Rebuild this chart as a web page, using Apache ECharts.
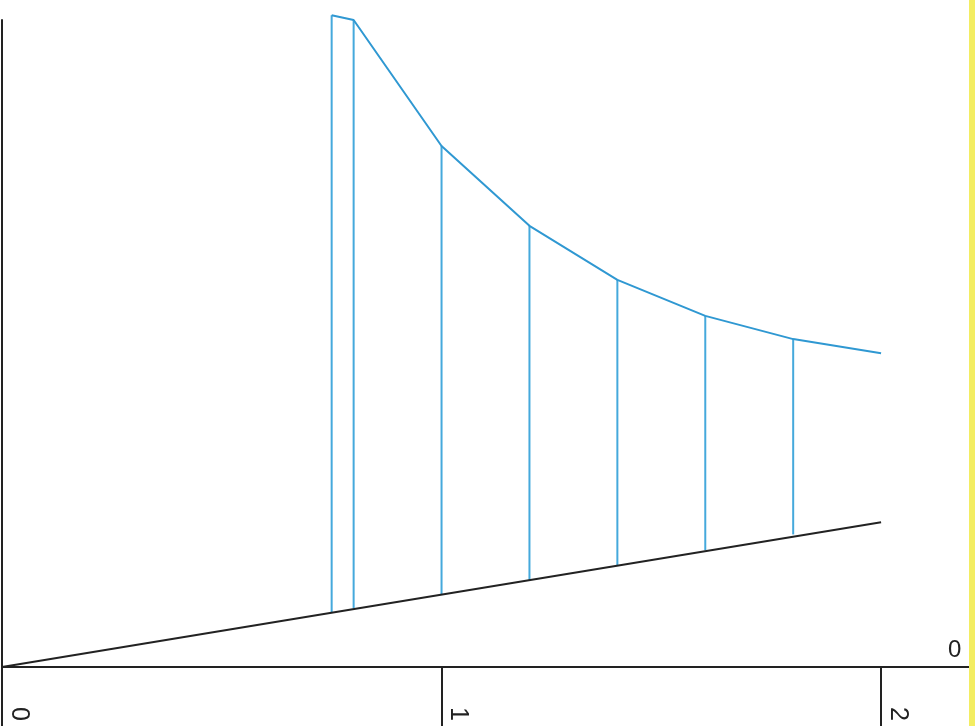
<!DOCTYPE html>
<html>
<head>
<meta charset="utf-8">
<script src="https://cdn.jsdelivr.net/npm/echarts@6/dist/echarts.min.js"></script>
<style>
  html, body { margin: 0; padding: 0; background: #fff; }
  #main { width: 980px; height: 726px; }
</style>
</head>
<body>
<div id="main"></div>
<script>
// stations along x where the curve was sampled
var stationX = [0.75, 0.8, 1.0, 1.2, 1.4, 1.6, 1.8, 2.0]
// upper (blue) curve values
var curveY = [1.485, 1.474, 1.187, 1.005, 0.882, 0.800, 0.747, 0.715]
// foot of each blue vertical, on the black line (no vertical at 2.0)
var baseY = [0.125, 0.134, 0.164, 0.197, 0.232, 0.266, 0.302]
// straight black line
var lineX = [0, 2.0]
var lineY = [0, 0.330]
// x axis tick labels
var tickValues = [0, 1, 2]

var curveData = stationX.map(function (x, i) { return [x, curveY[i]] })
var lineData = lineX.map(function (x, i) { return [x, lineY[i]] })
var stickData = baseY.map(function (b, i) { return [stationX[i], b, curveY[i]] })

var chart = echarts.init(document.getElementById('main'))

var option = {
  animation: false,
  backgroundColor: '#ffffff',
  grid: { left: 2, right: 11, top: 20, bottom: 59 },
  xAxis: {
    type: 'value',
    min: 0,
    max: 2.2,
    name: '0',
    nameLocation: 'end',
    nameGap: -21,
    nameTextStyle: {
      fontFamily: 'Liberation Sans',
      fontSize: 24,
      color: '#222',
      align: 'left',
      verticalAlign: 'bottom',
      padding: [0, 0, 5, 0]
    },
    axisLine: { show: true, lineStyle: { color: '#222', width: 2 } },
    axisTick: {
      show: true,
      customValues: tickValues,
      length: 60,
      lineStyle: { color: '#222', width: 2 }
    },
    axisLabel: {
      show: true,
      customValues: tickValues,
      rotate: -90,
      margin: 40,
      verticalAlign: 'bottom',
      padding: [0, 0, 4, 0],
      fontFamily: 'Liberation Sans',
      fontSize: 25,
      color: '#222'
    },
    splitLine: { show: false }
  },
  yAxis: {
    type: 'value',
    min: 0,
    max: 1.474,
    axisLine: { show: true, onZero: false, lineStyle: { color: '#222', width: 2 } },
    axisTick: { show: false },
    axisLabel: { show: false },
    splitLine: { show: false }
  },
  graphic: [
    {
      type: 'rect',
      left: 969,
      top: 0,
      shape: { width: 6, height: 726 },
      style: { fill: '#f3ed62' },
      z: 100
    }
  ],
  series: [
    {
      // blue verticals from the black line up to the curve
      type: 'custom',
      encode: { x: 0, y: [1, 2] },
      renderItem: function (params, api) {
        var p1 = api.coord([api.value(0), api.value(1)])
        var p2 = api.coord([api.value(0), api.value(2)])
        return {
          type: 'line',
          shape: { x1: p1[0], y1: p1[1], x2: p2[0], y2: p2[1] },
          style: { stroke: '#45a9dc', lineWidth: 2 }
        }
      },
      data: stickData,
      z: 2
    },
    {
      type: 'line',
      data: curveData,
      showSymbol: false,
      clip: false,
      lineStyle: { color: '#2f98d2', width: 2 },
      z: 3
    },
    {
      type: 'line',
      data: lineData,
      showSymbol: false,
      clip: false,
      lineStyle: { color: '#222', width: 2 },
      z: 4
    }
  ]
}

chart.setOption(option)
</script>
</body>
</html>
